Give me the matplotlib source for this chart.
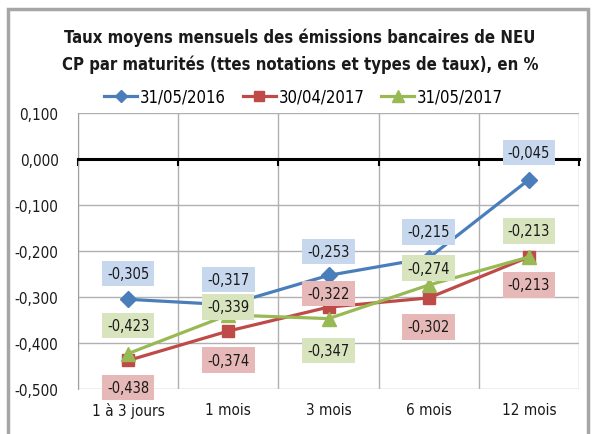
import numpy as np
import matplotlib.pyplot as plt
import matplotlib.transforms as mtransforms
from matplotlib.patches import Rectangle

plt.rcParams['font.family'] = ['DejaVu Sans']
plt.rcParams['font.stretch'] = 'condensed'

# data
categories = ['1 à 3 jours', '1 mois', '3 mois', '6 mois', '12 mois']
series_names = ['31/05/2016', '30/04/2017', '31/05/2017']
v_2016_05 = [-0.305, -0.317, -0.253, -0.215, -0.045]
v_2017_04 = [-0.438, -0.374, -0.322, -0.302, -0.213]
v_2017_05 = [-0.423, -0.339, -0.347, -0.274, -0.213]
yticks = [0.1, 0.0, -0.1, -0.2, -0.3, -0.4, -0.5]

# styles
colors = ['#4a7ebb', '#be4b48', '#98b954']
fills = ['#c6d7ee', '#e6b9b8', '#d7e4bd']
markers = ['D', 's', '^']
msizes = [8, 9, 10]
# label offsets in pixels (up positive)
offsets = [[26, 25, 24, 26, 27],
           [-27, -29, 14, -29, -28],
           [28, 8, -32, 17, 26]]

fig = plt.figure(figsize=(5.95, 4.35), dpi=100)
ax = fig.add_axes([78/595, 45/435, 501/595, 276/435])

x = np.arange(len(categories))
for vals, name, c, m, ms, f, offs in zip([v_2016_05, v_2017_04, v_2017_05], series_names,
                                          colors, markers, msizes, fills, offsets):
    ax.plot(x, vals, color=c, lw=2.3, marker=m, ms=ms, mec=c, mfc=c, label=name, zorder=3)
    for xi, v, o in zip(x, vals, offs):
        ax.annotate(('%.3f' % v).replace('.', ','), (xi, v), xytext=(0, o),
                    textcoords='offset pixels', ha='center', va='center',
                    fontsize=10.5, color='#1a1a1a', zorder=5,
                    bbox=dict(boxstyle='square,pad=0.35', fc=f, ec='none'))

ax.set_xlim(-0.5, len(categories) - 0.5)
ax.set_ylim(-0.5, 0.1)
ax.set_yticks(yticks)
ax.set_yticklabels([('%.3f' % t).replace('.', ',') for t in yticks], fontsize=11, color='#1a1a1a')
ax.tick_params(axis='y', length=0, pad=14)
ax.set_xticks(np.arange(-0.5, len(categories), 1.0))
ax.set_xticklabels([])
ax.tick_params(axis='x', length=5, width=1.5, direction='out', color='black')
ax.grid(True, color='#b0b0b0', lw=1)
ax.set_axisbelow(True)

ax.spines['bottom'].set_position(('data', 0))
ax.spines['bottom'].set_color('black')
ax.spines['bottom'].set_linewidth(2.2)
ax.spines['bottom'].set_zorder(2.5)
ax.spines['left'].set_color('#a0a0a0')
ax.spines['top'].set_visible(False)
ax.spines['right'].set_visible(False)

# category labels under the plot area
shift = mtransforms.ScaledTranslation(0, -13/100, fig.dpi_scale_trans)
for xi, cat in zip(x, categories):
    ax.text(xi, -0.5, cat, transform=ax.transData + shift, ha='center', va='top',
            fontsize=11, color='#1a1a1a')

fig.text(0.503, 1 - 38/435, 'Taux moyens mensuels des émissions bancaires de NEU',
         ha='center', va='center', fontsize=12, fontweight='bold', color='#1a1a1a')
fig.text(0.505, 1 - 65/435, 'CP par maturités (ttes notations et types de taux), en %',
         ha='center', va='center', fontsize=12, fontweight='bold', color='#1a1a1a')

fig.legend(loc='center', bbox_to_anchor=(0.51, 1 - 98/435), ncol=3, frameon=False,
           fontsize=12, handlelength=2.0, handletextpad=0.15, columnspacing=1.0,
           markerscale=0.8)

fig.patches.append(Rectangle((8/595, -0.05), 580/595, 1 - 10/435 + 0.05,
                             transform=fig.transFigure, fill=False, ec='#a6a6a6', lw=2.5))

fig.savefig('out.png', dpi=100)
